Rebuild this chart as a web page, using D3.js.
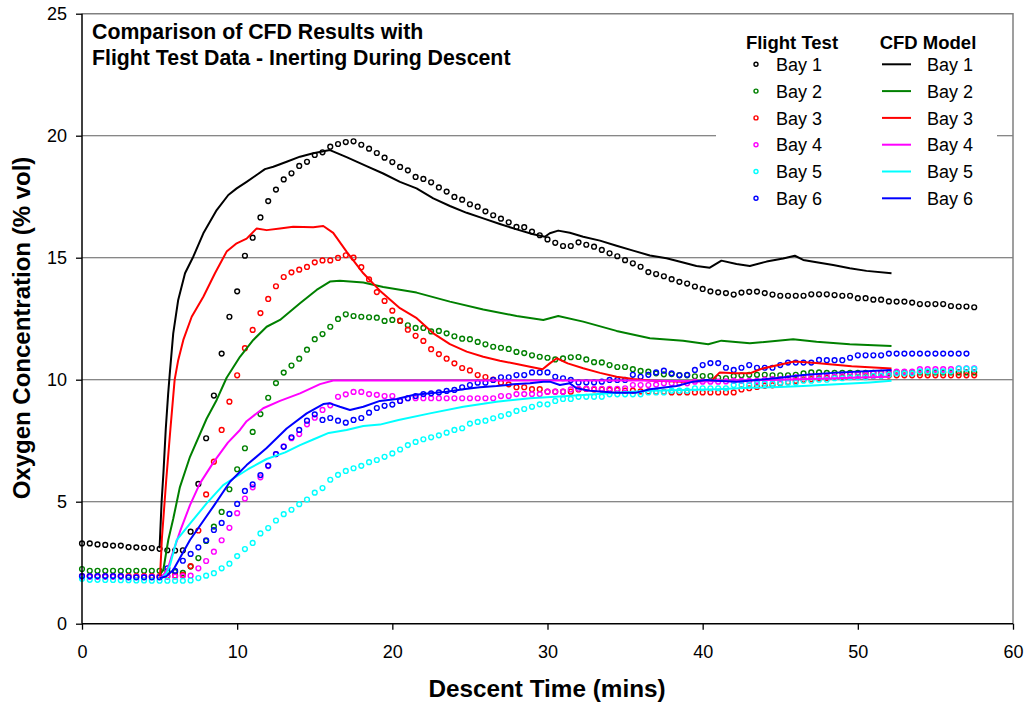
<!DOCTYPE html>
<html><head><meta charset="utf-8">
<script src="https://cdn.jsdelivr.net/npm/d3@7"></script>
<style>body{margin:0;background:#fff} svg{display:block} text{font-family:"Liberation Sans",Arial,sans-serif;fill:#000}</style>
</head><body><svg id="c" width="1024" height="702"></svg>
<script>
// ---------- DATA ----------
const bays = ["Bay 1","Bay 2","Bay 3","Bay 4","Bay 5","Bay 6"];
const bayColors = ["#000000","#008000","#ff0000","#ff00ff","#00ffff","#0000ff"];
const xTicks = [0,10,20,30,40,50,60];
const yTicks = [0,5,10,15,20,25];

// flight test sample times (min)
const sampleMinutes = [0,0.5,1,1.5,2,2.5,3,3.5,4,4.5,5,5.5,6,6.5,7,7.5,8,8.5,9,9.5,10,
10.5,11,11.5,12,12.5,13,13.5,14,14.5,15,15.5,16,16.5,17,17.5,18,18.5,19,19.5,20,
20.5,21,21.5,22,22.5,23,23.5,24,24.5,25,25.5,26,26.5,27,27.5,28,28.5,29,29.5,30,
30.5,31,31.5,32,32.5,33,33.5,34,34.5,35,35.5,36,36.5,37,37.5,38,38.5,39,39.5,40,
40.5,41,41.5,42,42.5,43,43.5,44,44.5,45,45.5,46,46.5,47,47.5,48,48.5,49,49.5,50,
50.5,51,51.5,52,52.5,53,53.5,54,54.5,55,55.5,56,56.5,57,57.5];

const flightBay1 = [3.29,3.29,3.25,3.23,3.2,3.2,3.14,3.13,3.11,3.1,3.07,
3.01,3.0,3.01,3.77,5.73,7.6,9.35,11.07,12.58,13.62,
15.08,15.82,16.65,17.32,17.79,18.21,18.46,18.76,18.93,19.21,
19.32,19.55,19.66,19.74,19.77,19.63,19.47,19.29,19.1,18.92,
18.72,18.58,18.31,18.23,18.09,17.88,17.71,17.49,17.38,17.19,
17.09,16.9,16.74,16.6,16.45,16.26,16.25,16.07,15.92,15.75,
15.61,15.48,15.48,15.63,15.53,15.45,15.32,15.18,15.06,14.9,
14.77,14.63,14.41,14.33,14.24,14.12,14.01,13.94,13.82,13.72,
13.62,13.58,13.55,13.49,13.57,13.6,13.61,13.55,13.49,13.44,
13.44,13.44,13.44,13.5,13.5,13.5,13.47,13.44,13.44,13.34,
13.34,13.28,13.28,13.21,13.2,13.2,13.16,13.1,13.1,13.1,
13.1,13.02,13.0,13.0,12.97];
const flightBay2 = [2.24,2.17,2.17,2.17,2.17,2.17,2.17,2.17,2.17,2.17,2.17,
2.15,2.12,2.08,2.34,2.69,3.39,3.98,4.58,5.51,6.33,
7.19,7.86,8.59,9.26,9.86,10.29,10.58,10.86,11.23,11.66,
11.87,12.17,12.49,12.68,12.61,12.58,12.56,12.54,12.41,12.45,
12.41,12.23,12.12,12.12,11.98,12.0,11.9,11.78,11.68,11.66,
11.55,11.45,11.35,11.31,11.26,11.14,11.09,11.0,10.94,10.9,
10.83,10.87,10.92,10.93,10.83,10.72,10.71,10.6,10.52,10.52,
10.43,10.36,10.33,10.26,10.22,10.23,10.19,10.18,10.14,10.15,
10.15,10.08,10.06,10.15,10.18,10.2,10.2,10.2,10.18,10.18,
10.18,10.2,10.26,10.3,10.3,10.28,10.28,10.28,10.28,10.28,
10.28,10.28,10.28,10.28,10.3,10.3,10.3,10.3,10.3,10.3,
10.3,10.3,10.3,10.3,10.3];
const flightBay3 = [1.95,1.95,1.95,1.95,1.95,1.95,1.95,1.95,1.95,1.95,1.95,
1.95,1.97,2.0,2.36,3.82,5.3,6.64,7.94,9.1,10.18,
11.29,12.04,12.73,13.31,13.83,14.21,14.4,14.51,14.62,14.81,
14.89,14.89,14.99,15.1,15.0,14.61,14.11,13.59,13.23,12.83,
12.42,12.05,11.8,11.59,11.25,11.05,10.86,10.67,10.48,10.38,
10.19,10.11,10.0,9.88,9.81,9.69,9.69,9.61,9.61,9.51,
9.51,9.51,9.51,9.6,9.62,9.6,9.6,9.58,9.58,9.55,
9.55,9.52,9.52,9.5,9.5,9.48,9.48,9.48,9.48,9.48,
9.48,9.48,9.48,9.48,9.6,9.65,9.7,9.75,9.77,9.85,
9.9,9.95,10.0,10.02,10.05,10.07,10.1,10.1,10.12,10.12,
10.14,10.15,10.16,10.17,10.18,10.18,10.18,10.18,10.18,10.18,
10.18,10.18,10.18,10.18,10.18];
const flightBay4 = [1.92,1.92,1.92,1.92,1.92,1.92,1.92,1.92,1.92,1.92,1.92,
1.92,1.93,1.95,1.97,2.27,2.57,2.95,3.42,3.93,4.53,
5.13,5.59,6.0,6.46,6.95,7.27,7.6,7.77,8.17,8.44,
8.76,8.95,9.3,9.4,9.5,9.5,9.41,9.38,9.33,9.33,
9.13,9.24,9.24,9.24,9.24,9.24,9.24,9.24,9.24,9.24,
9.24,9.24,9.24,9.33,9.33,9.41,9.41,9.41,9.41,9.51,
9.51,9.51,9.6,9.63,9.63,9.63,9.63,9.63,9.63,9.65,
9.78,9.78,9.78,9.8,9.85,9.85,9.85,9.85,9.92,9.92,
9.92,9.92,9.93,9.95,9.95,9.95,9.95,10.0,10.02,10.02,
10.06,10.1,10.1,10.13,10.13,10.13,10.13,10.15,10.2,10.22,
10.22,10.26,10.28,10.32,10.33,10.33,10.33,10.43,10.43,10.43,
10.43,10.43,10.47,10.47,10.47];
const flightBay5 = [1.84,1.8,1.8,1.79,1.79,1.78,1.78,1.77,1.77,1.76,1.76,
1.76,1.76,1.76,1.77,1.87,1.97,2.07,2.27,2.46,2.77,
3.06,3.31,3.7,3.92,4.23,4.49,4.67,4.9,5.09,5.37,
5.56,5.9,6.1,6.26,6.37,6.47,6.62,6.71,6.84,6.98,
7.14,7.32,7.45,7.56,7.64,7.72,7.83,7.94,8.01,8.2,
8.27,8.32,8.42,8.51,8.59,8.72,8.8,8.89,8.99,8.99,
9.13,9.21,9.21,9.3,9.3,9.3,9.3,9.4,9.4,9.4,
9.4,9.4,9.48,9.48,9.48,9.55,9.55,9.55,9.65,9.65,
9.65,9.65,9.65,9.78,9.78,9.78,9.85,9.85,9.85,9.88,
9.88,9.88,9.96,9.96,10.0,10.0,10.06,10.06,10.1,10.1,
10.1,10.16,10.16,10.2,10.26,10.26,10.26,10.34,10.34,10.34,
10.34,10.34,10.45,10.45,10.44];
const flightBay6 = [1.95,1.95,1.95,1.95,1.95,1.95,1.9,1.9,1.9,1.9,1.9,
2.27,2.17,2.58,2.86,3.13,3.42,3.84,4.13,4.5,4.91,
5.44,5.71,6.09,6.48,6.95,7.25,7.64,7.94,8.32,8.58,
8.35,8.43,8.32,8.24,8.35,8.43,8.65,8.84,8.93,8.98,
9.13,9.24,9.33,9.41,9.44,9.48,9.54,9.58,9.69,9.78,
9.88,9.88,9.99,10.1,10.1,10.19,10.19,10.3,10.3,10.3,
10.12,10.06,9.99,9.89,9.89,9.89,9.92,9.99,9.99,9.99,
10.2,10.12,10.2,10.3,10.37,10.26,10.18,10.2,10.4,10.6,
10.68,10.68,10.49,10.4,10.49,10.6,10.49,10.49,10.49,10.6,
10.7,10.7,10.7,10.7,10.81,10.8,10.8,10.8,10.9,11.0,
11.0,11.0,11.0,11.07,11.07,11.07,11.07,11.07,11.07,11.07,
11.07,11.07,11.07,11.07];

// CFD model: [time (min), O2 %]
const cfdBay1 = [[5.0,3.09],[5.13,5.0],[5.25,6.2],[5.4,8.0],[5.55,9.4],[5.65,10.2],[5.88,11.9],[6.2,13.27],[6.64,14.36],[7.17,15.04],[7.82,16.0],[8.68,16.95],[9.43,17.57],[9.97,17.84],[10.61,18.11],[11.25,18.39],[11.79,18.63],[12.33,18.73],[13.19,18.93],[14.05,19.14],[14.9,19.28],[15.98,19.41],[17.05,19.12],[18.34,18.75],[19.41,18.45],[20.49,18.11],[21.56,17.84],[22.64,17.43],[23.71,17.12],[24.79,16.84],[25.86,16.61],[26.93,16.38],[28.01,16.16],[29.08,15.96],[29.83,15.86],[30.15,16.0],[30.69,16.11],[31.44,16.02],[32.3,15.86],[33.38,15.7],[34.45,15.49],[35.52,15.29],[36.6,15.09],[37.67,14.98],[38.74,14.8],[39.6,14.66],[40.46,14.59],[41.21,14.88],[42.18,14.74],[43.04,14.66],[44.12,14.84],[45.19,14.97],[45.94,15.08],[46.48,14.91],[47.34,14.81],[48.41,14.7],[49.48,14.57],[50.56,14.46],[52.17,14.36]];
const cfdBay2 = [[5.0,2.0],[5.24,2.2],[5.56,3.43],[5.88,4.3],[6.31,5.6],[6.96,6.84],[8.03,8.4],[8.68,9.17],[9.32,10.08],[10.18,10.94],[11.04,11.63],[11.9,12.17],[12.76,12.45],[14.05,13.13],[15.12,13.68],[15.98,14.02],[16.62,14.06],[18.13,13.98],[19.41,13.8],[21.56,13.57],[23.71,13.2],[25.86,12.88],[28.01,12.61],[29.73,12.45],[30.69,12.61],[32.3,12.38],[34.45,12.0],[36.6,11.7],[38.74,11.6],[40.36,11.45],[41.21,11.6],[43.04,11.49],[45.83,11.66],[47.34,11.56],[49.48,11.45],[52.17,11.38]];
const cfdBay3 = [[5.03,1.93],[5.15,3.5],[5.43,5.9],[5.7,8.0],[5.97,9.99],[6.2,10.8],[6.53,11.63],[7.07,12.58],[7.82,13.4],[8.57,14.36],[9.32,15.25],[9.97,15.59],[10.61,15.78],[11.26,16.2],[11.9,16.13],[12.76,16.2],[13.61,16.27],[14.9,16.25],[15.55,16.3],[16.19,16.02],[17.05,15.25],[18.13,14.36],[19.2,13.65],[20.49,12.93],[21.57,12.52],[22.64,11.9],[23.71,11.46],[24.79,11.15],[25.86,10.94],[26.93,10.78],[28.01,10.64],[28.87,10.53],[29.68,10.43],[30.15,10.67],[30.6,10.88],[31.3,10.67],[32.3,10.47],[33.38,10.28],[34.45,10.12],[35.52,10.03],[36.6,9.97],[38.74,9.92],[40.57,9.96],[41.1,10.3],[42.18,10.26],[43.04,10.26],[43.8,10.45],[45.9,10.75],[47.3,10.68],[49.6,10.55],[52.17,10.46]];
const cfdBay4 = [[5.0,1.9],[5.2,1.95],[5.56,2.3],[5.77,2.75],[6.31,3.77],[6.96,4.86],[7.6,5.75],[8.46,6.6],[9.4,7.42],[10.18,7.94],[10.61,8.3],[11.68,8.83],[12.76,9.13],[14.05,9.44],[15.34,9.82],[16.19,9.97],[36.0,9.97],[40.0,9.93],[44.33,9.99],[48.0,10.05],[52.06,10.12]];
const cfdBay5 = [[5.0,1.85],[5.2,1.9],[5.45,2.07],[5.67,2.4],[6.1,3.43],[6.96,4.1],[8.03,4.93],[9.1,5.68],[9.75,5.95],[10.7,6.33],[11.9,6.75],[13.1,7.02],[14.05,7.32],[14.9,7.55],[15.9,7.82],[17.05,7.94],[18.13,8.1],[19.2,8.16],[20.4,8.35],[22.42,8.62],[24.57,8.89],[26.72,9.1],[28.87,9.24],[30.5,9.3],[32.3,9.37],[34.45,9.47],[36.6,9.55],[38.74,9.58],[40.89,9.61],[43.04,9.67],[44.97,9.7],[46.48,9.74],[48.63,9.81],[50.77,9.89],[52.17,9.96]];
const cfdBay6 = [[5.0,1.86],[5.45,1.95],[5.88,2.2],[6.96,3.43],[8.46,4.8],[9.54,5.82],[10.61,6.5],[11.9,7.2],[13.19,8.0],[14.48,8.62],[15.55,9.0],[15.98,9.03],[16.62,8.89],[17.27,8.76],[18.13,8.89],[19.2,9.13],[20.28,9.21],[21.35,9.37],[22.42,9.44],[23.5,9.51],[24.57,9.61],[25.64,9.69],[26.72,9.74],[27.79,9.81],[28.87,9.85],[29.73,9.92],[30.15,9.92],[30.8,9.78],[31.44,9.85],[31.87,9.65],[32.73,9.55],[34.45,9.47],[35.73,9.47],[36.6,9.61],[38.32,9.74],[39.39,9.92],[40.25,9.99],[40.89,9.96],[42.18,9.92],[43.47,9.99],[44.97,10.08],[46.48,10.19],[48.63,10.29],[52.17,10.4]];

const flightSeries = [flightBay1,flightBay2,flightBay3,flightBay4,flightBay5,flightBay6];
const cfdSeries = [cfdBay1,cfdBay2,cfdBay3,cfdBay4,cfdBay5,cfdBay6];
const titleLines = ["Comparison of CFD Results with","Flight Test Data - Inerting During Descent"];

// ---------- CHART ----------
const svg = d3.select("#c");
const L = 82, R = 1013, T = 13.7, B = 623.7;
const x = d3.scaleLinear().domain([0,60]).range([L,R]);
const y = d3.scaleLinear().domain([0,25]).range([B,T]);

// gridlines
svg.append("g").selectAll("line").data(yTicks.filter(v => v > 0 && v < 25)).join("line")
  .attr("x1", L).attr("x2", R).attr("y1", d => y(d)).attr("y2", d => y(d))
  .attr("stroke", "#5f5f5f").attr("stroke-width", 1.1);
// top and right frame
svg.append("path").attr("d", `M${L},${y(25)}H${R}V${B}`).attr("fill","none")
  .attr("stroke","#808080").attr("stroke-width",1.5);

// legend background
svg.append("rect").attr("x",716).attr("y",26).attr("width",281).attr("height",186).attr("fill","#fff");

// markers
const mk = svg.append("g");
flightSeries.forEach((vals, i) => {
  mk.append("g").selectAll("circle").data(vals).join("circle")
    .attr("cx", (d, j) => x(sampleMinutes[j])).attr("cy", d => y(d)).attr("r", 2.4)
    .attr("fill", "none").attr("stroke", bayColors[i]).attr("stroke-width", 1.4);
});

// CFD lines
const line = d3.line().x(d => x(d[0])).y(d => y(d[1]));
cfdSeries.forEach((pts, i) => {
  svg.append("path").attr("d", line(pts)).attr("fill","none")
    .attr("stroke", bayColors[i]).attr("stroke-width", 2).attr("stroke-linejoin","round");
});

// axes
const xa = svg.append("g").attr("transform", `translate(0,${B})`)
  .call(d3.axisBottom(x).tickValues(xTicks).tickSize(6).tickPadding(16).tickFormat(d3.format("d")));
const ya = svg.append("g").attr("transform", `translate(${L},0)`)
  .call(d3.axisLeft(y).tickValues(yTicks).tickSize(6).tickPadding(9).tickFormat(d3.format("d")));
[xa, ya].forEach(a => {
  a.select(".domain").attr("stroke","#000").attr("stroke-width",1.5);
  a.selectAll(".tick line").attr("stroke","#000").attr("stroke-width",1.3);
  a.selectAll(".tick text").attr("font-size",18).attr("font-family",'"Liberation Sans",Arial,sans-serif').attr("fill","#000");
});
xa.select(".domain").attr("d", `M${L},0H${R}`);
ya.select(".domain").attr("d", `M0,${B}V${T}`);

// axis titles
svg.append("text").attr("x", 547).attr("y", 697).attr("text-anchor","middle")
  .attr("font-size", 24.3).attr("font-weight","bold").text("Descent Time (mins)");
svg.append("text").attr("transform", "translate(30,328) rotate(-90)").attr("text-anchor","middle")
  .attr("font-size", 24).attr("font-weight","bold").text("Oxygen Concentration (% vol)");

// chart title
svg.append("g").selectAll("text").data(titleLines).join("text")
  .attr("x", 92).attr("y", (d, i) => 39 + i * 26).attr("font-size", 21.3).attr("font-weight","bold").text(d => d);

// legend
const lg = svg.append("g");
lg.append("text").attr("x", 792).attr("y", 49).attr("text-anchor","middle").attr("font-size",18.5).attr("font-weight","bold").text("Flight Test");
lg.append("text").attr("x", 928).attr("y", 49).attr("text-anchor","middle").attr("font-size",18.5).attr("font-weight","bold").text("CFD Model");
const rowY = i => 64.3 + i * 26.8;
bays.forEach((b, i) => {
  lg.append("circle").attr("cx", 756).attr("cy", rowY(i)).attr("r", 2)
    .attr("fill","none").attr("stroke", bayColors[i]).attr("stroke-width", 1.4);
  lg.append("text").attr("x", 776).attr("y", rowY(i) + 6.6).attr("font-size", 18).text(b);
  lg.append("line").attr("x1", 882).attr("x2", 911).attr("y1", rowY(i)).attr("y2", rowY(i))
    .attr("stroke", bayColors[i]).attr("stroke-width", 2);
  lg.append("text").attr("x", 927).attr("y", rowY(i) + 6.6).attr("font-size", 18).text(b);
});
</script></body></html>
